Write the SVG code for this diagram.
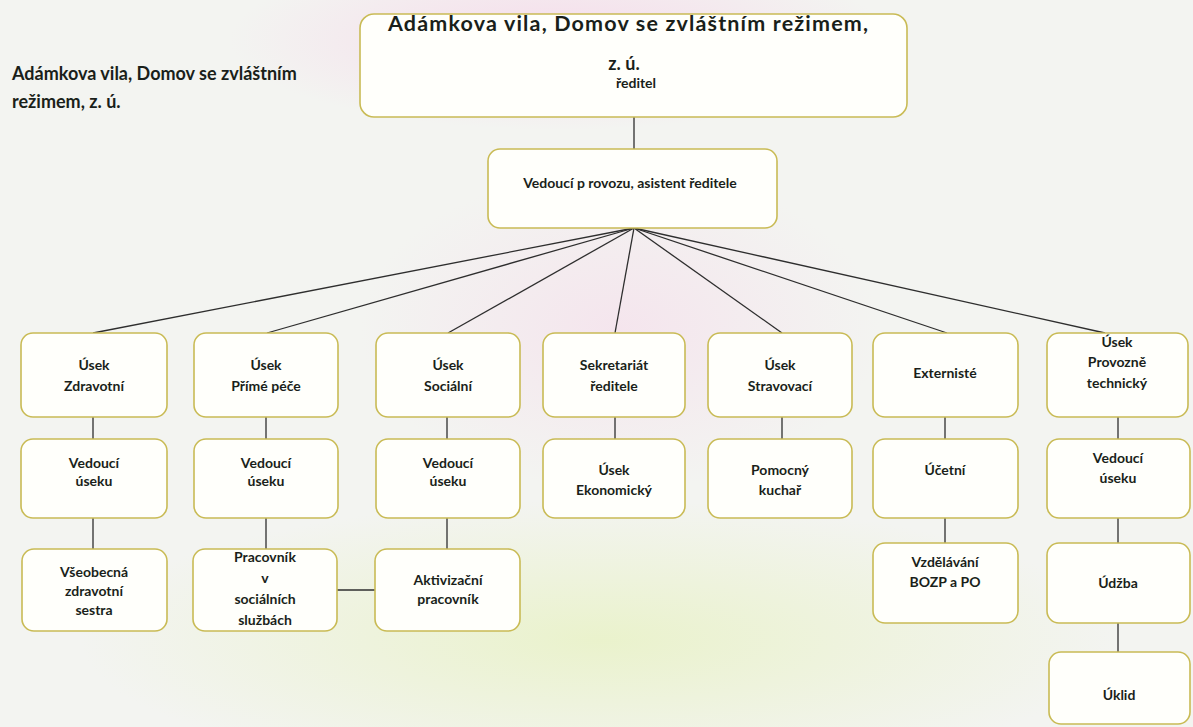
<svg xmlns="http://www.w3.org/2000/svg" width="1193" height="727" viewBox="0 0 1193 727">
<defs>
<radialGradient id="pink" cx="0.5" cy="0.5" r="0.5">
<stop offset="0" stop-color="#f6d8ea" stop-opacity="0.9"/>
<stop offset="1" stop-color="#f6d8ea" stop-opacity="0"/>
</radialGradient>
<radialGradient id="green" cx="0.5" cy="0.5" r="0.5">
<stop offset="0" stop-color="#e9f2c8" stop-opacity="0.9"/>
<stop offset="1" stop-color="#e9f2c8" stop-opacity="0"/>
</radialGradient>
<style>
.box{fill:#fffffb;stroke:#c9bb55;stroke-width:1.6}
.t{font-family:Lato,"Open Sans","DejaVu Sans",sans-serif;font-weight:700;fill:#1a1f1a;text-anchor:middle;font-size:14px}
.con{stroke:#2e2e2e;stroke-width:1.3;fill:none}
</style>
</defs>
<rect width="1193" height="727" fill="#f3f4f1"/>
<ellipse cx="560" cy="40" rx="330" ry="90" fill="url(#pink)"/>
<ellipse cx="620" cy="330" rx="260" ry="160" fill="url(#pink)" opacity="0.6"/>
<ellipse cx="600" cy="640" rx="520" ry="140" fill="url(#green)"/>

<text x="12" y="80" class="t" style="text-anchor:start;font-size:18px">Adámkova vila, Domov se zvláštním</text>
<text x="12" y="108" class="t" style="text-anchor:start;font-size:18px">režimem, z. ú.</text>

<g id="connectors">
<line class="con" x1="634" y1="117" x2="634" y2="149"/>
<line class="con" x1="634" y1="228" x2="93" y2="333"/>
<line class="con" x1="634" y1="228" x2="267" y2="333"/>
<line class="con" x1="634" y1="228" x2="448" y2="333"/>
<line class="con" x1="634" y1="228" x2="615" y2="333"/>
<line class="con" x1="634" y1="228" x2="782" y2="333"/>
<line class="con" x1="634" y1="228" x2="947" y2="333"/>
<line class="con" x1="634" y1="228" x2="1105" y2="333"/>
<line class="con" x1="93" y1="417" x2="93" y2="439"/>
<line class="con" x1="266" y1="417" x2="266" y2="439"/>
<line class="con" x1="447" y1="417" x2="447" y2="439"/>
<line class="con" x1="615" y1="417" x2="615" y2="439"/>
<line class="con" x1="782" y1="417" x2="782" y2="439"/>
<line class="con" x1="945" y1="417" x2="945" y2="439"/>
<line class="con" x1="1118" y1="417" x2="1118" y2="439"/>
<line class="con" x1="93" y1="518" x2="93" y2="549"/>
<line class="con" x1="266" y1="518" x2="266" y2="549"/>
<line class="con" x1="447" y1="518" x2="447" y2="549"/>
<line class="con" x1="945" y1="518" x2="945" y2="543"/>
<line class="con" x1="1118" y1="518" x2="1118" y2="543"/>
<line class="con" x1="1118" y1="623" x2="1118" y2="652"/>
<line class="con" x1="337" y1="590" x2="375" y2="590"/>
</g>

<g id="n-reditel">
<rect class="box" x="360" y="14" width="547" height="103" rx="14"/>
<text x="628" y="31" class="t" style="font-size:21.5px" textLength="480" lengthAdjust="spacing">Adámkova vila, Domov se zvláštním režimem,</text>
<text x="624" y="70" class="t" style="font-size:18px">z. ú.</text>
<text x="636" y="88" class="t" style="font-size:14px">ředitel</text>
</g>
<g id="n-vedouci-provozu">
<rect class="box" x="488" y="149" width="289" height="79" rx="12"/>
<text x="630" y="188" class="t" style="font-size:14px">Vedoucí p rovozu, asistent ředitele</text>
</g>

<g id="n-zdravotni"><rect class="box" x="21" y="333" width="146" height="84" rx="12"/>
<text x="94" y="370" class="t">Úsek</text><text x="94" y="391" class="t">Zdravotní</text></g>
<g id="n-prime-pece"><rect class="box" x="194" y="333" width="144" height="84" rx="12"/>
<text x="266" y="370" class="t">Úsek</text><text x="266" y="391" class="t">Přímé péče</text></g>
<g id="n-socialni"><rect class="box" x="376" y="333" width="144" height="84" rx="12"/>
<text x="448" y="370" class="t">Úsek</text><text x="448" y="391" class="t">Sociální</text></g>
<g id="n-sekretariat"><rect class="box" x="543" y="333" width="142" height="84" rx="12"/>
<text x="614" y="370" class="t">Sekretariát</text><text x="614" y="391" class="t">ředitele</text></g>
<g id="n-stravovaci"><rect class="box" x="708" y="333" width="144" height="84" rx="12"/>
<text x="780" y="370" class="t">Úsek</text><text x="780" y="391" class="t">Stravovací</text></g>
<g id="n-externiste"><rect class="box" x="873" y="333" width="145" height="84" rx="12"/>
<text x="945" y="378" class="t">Externisté</text></g>
<g id="n-provozne"><rect class="box" x="1047" y="333" width="141" height="84" rx="12"/>
<text x="1117" y="347" class="t">Úsek</text><text x="1117" y="367" class="t">Provozně</text><text x="1117" y="388" class="t">technický</text></g>

<g id="n-vedouci-1"><rect class="box" x="21" y="439" width="146" height="79" rx="12"/>
<text x="94" y="468" class="t">Vedoucí</text><text x="94" y="486" class="t">úseku</text></g>
<g id="n-vedouci-2"><rect class="box" x="194" y="439" width="144" height="79" rx="12"/>
<text x="266" y="468" class="t">Vedoucí</text><text x="266" y="486" class="t">úseku</text></g>
<g id="n-vedouci-3"><rect class="box" x="376" y="439" width="144" height="79" rx="12"/>
<text x="448" y="468" class="t">Vedoucí</text><text x="448" y="486" class="t">úseku</text></g>
<g id="n-ekonomicky"><rect class="box" x="543" y="439" width="142" height="79" rx="12"/>
<text x="614" y="475" class="t">Úsek</text><text x="614" y="495" class="t">Ekonomický</text></g>
<g id="n-pomocny-kuchar"><rect class="box" x="708" y="439" width="144" height="79" rx="12"/>
<text x="780" y="475" class="t">Pomocný</text><text x="780" y="495" class="t">kuchař</text></g>
<g id="n-ucetni"><rect class="box" x="873" y="439" width="145" height="79" rx="12"/>
<text x="945" y="475" class="t">Účetní</text></g>
<g id="n-vedouci-7"><rect class="box" x="1047" y="439" width="143" height="79" rx="12"/>
<text x="1118" y="463" class="t">Vedoucí</text><text x="1118" y="483" class="t">úseku</text></g>

<g id="n-vseobecna"><rect class="box" x="22" y="549" width="145" height="82" rx="12"/>
<text x="94" y="577" class="t">Všeobecná</text><text x="94" y="596" class="t">zdravotní</text><text x="94" y="615" class="t">sestra</text></g>
<g id="n-pracovnik-ss"><rect class="box" x="193" y="549" width="144" height="82" rx="12"/>
<text x="265" y="562" class="t">Pracovník</text><text x="265" y="583" class="t">v</text><text x="265" y="604" class="t">sociálních</text><text x="265" y="625" class="t">službách</text></g>
<g id="n-aktivizacni"><rect class="box" x="375" y="549" width="145" height="82" rx="12"/>
<text x="448" y="585" class="t">Aktivizační</text><text x="448" y="604" class="t">pracovník</text></g>
<g id="n-vzdelavani"><rect class="box" x="873" y="543" width="145" height="80" rx="12"/>
<text x="945" y="567" class="t">Vzdělávání</text><text x="945" y="587" class="t">BOZP a PO</text></g>
<g id="n-udrzba"><rect class="box" x="1047" y="543" width="143" height="80" rx="12"/>
<text x="1118" y="588" class="t">Údžba</text></g>
<g id="n-uklid"><rect class="box" x="1049" y="652" width="141" height="72" rx="12"/>
<text x="1119" y="700" class="t">Úklid</text></g>
</svg>
